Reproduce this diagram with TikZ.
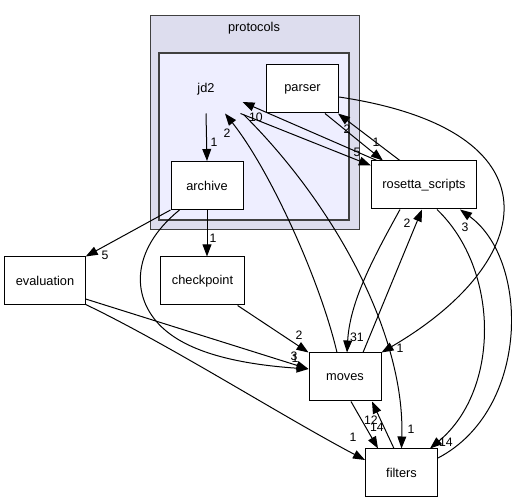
\documentclass[tikz,border=0pt]{standalone}
\usepackage{fontspec}
\setmainfont{Liberation Sans}
\usetikzlibrary{arrows.meta,calc}
\definecolor{outerbg}{HTML}{DDDDEE}
\definecolor{innerbg}{HTML}{EEEEFF}
\definecolor{clusline}{HTML}{404040}
\begin{document}
\begin{tikzpicture}[x=0.75pt, y=-0.75pt, line width=0.75pt,
  dirbox/.style={draw, fill=white, minimum width=54pt, minimum height=36pt, inner xsep=8.25pt, font=\fontsize{9.6}{11}\selectfont},
  dep/.style={-{Triangle[length=9pt,width=6.6pt]}},
  lbl/.style={inner sep=0pt, font=\fontsize{9.2}{10}\selectfont}]
  \useasboundingbox (0,0) rectangle (512,503);
  % clusters
  \draw[clusline, fill=outerbg] (150,16) rectangle (359,230);
  \node[font=\fontsize{9.6}{11}\selectfont] (protocols) at (254,28) {protocols};
  \draw[clusline, line width=1.5pt, fill=innerbg] (159,53) rectangle (349,220);
  \node[minimum width=54pt, minimum height=36pt, font=\fontsize{9.6}{11}\selectfont] (jd2) at (206,89) {jd2};
  % directories
  \node[dirbox] (parser) at (302.5,89) {parser};
  \node[dirbox] (archive) at (207,185.5) {archive};
  \node[dirbox] (rosetta) at (424,185) {rosetta\_scripts};
  \node[dirbox] (evaluation) at (45,281) {evaluation};
  \node[dirbox] (checkpoint) at (202.5,281) {checkpoint};
  \node[dirbox] (moves) at (345,377) {moves};
  \node[dirbox] (filters) at (401.5,473) {filters};
  % dependencies
  \draw[dep] (jd2.south) -- (archive.north) node[lbl] (c1) at (214,142) {1};
  \draw[dep] (archive.south) -- (archive.south |- checkpoint.north) node[lbl] (c2) at (213,238) {1};
  \draw[dep] (archive.south west) -- (evaluation.north east) node[lbl] (c3) at (105,255) {5};
  \draw[dep] ($(archive.south west)+(9,0)$) .. controls (130,250) and (130,300) .. (165,330)
    .. controls (195,356) and (250,365) .. ($(moves.west)+(0,-8)$) node[lbl] (c4) at (294,356) {3};
  \draw[dep] ($(evaluation.east)+(0,18)$) -- ($(moves.west)+(0,-8)$) node[lbl] (c5) at (295,358) {1};
  \draw[dep] ($(evaluation.south east)+(0,-1)$) .. controls (170,345) and (280,415) .. ($(filters.west)+(0,-13)$)
    node[lbl] (c6) at (353,437) {1};
  \draw[dep] ($(checkpoint.south east)+(-7,0)$) -- (moves.north west) node[lbl] (c7) at (299,335) {2};
  \draw[dep] ($(moves.north)+(-8,0)$) .. controls (320,280) and (270,170) .. ($(jd2.south)+(19,0)$)
    node[lbl] (c8) at (227,133) {2};
  \draw[dep] ($(jd2.south east)+(1,1)$) .. controls (330,200) and (405,330) .. (filters.north)
    node[lbl] (c9) at (411,429) {1};
  \draw[dep] ($(jd2.south east)+(-2,0)$) -- ($(rosetta.north west)+(0,5)$) node[lbl] (c10) at (357,152) {5};
  \draw[dep] ($(rosetta.north west)+(6,0)$) -- ($(jd2.east)+(0,13)$) node[lbl] (c11) at (256,117) {10};
  \draw[dep] ($(rosetta.north west)+(29,0)$) -- ($(parser.south east)+(-1,0)$) node[lbl] (c12) at (347,129) {2};
  \draw[dep] ($(parser.south east)+(-14,0)$) -- ($(rosetta.north west)+(12,0)$) node[lbl] (c13) at (376,142) {1};
  \draw[dep] ($(parser.east)+(0,8)$) .. controls (560,130) and (540,260) .. (moves.north east)
    node[lbl] (c14) at (400,348) {1};
  \draw[dep] ($(rosetta.south)+(-24,0)$) .. controls (375,255) and (350,300) .. ($(moves.north)+(2,0)$)
    node[lbl] (c15) at (357,337) {31};
  \draw[dep] ($(moves.north)+(18,0)$) -- ($(rosetta.south)+(-2,0)$) node[lbl] (c16) at (407,223) {2};
  \draw[dep] ($(rosetta.south)+(13,0)$) .. controls (500,270) and (500,390) .. ($(filters.north east)+(-8,0)$)
    node[lbl] (c17) at (446,442) {14};
  \draw[dep] ($(filters.east)+(0,-15)$) .. controls (530,410) and (530,260) .. ($(rosetta.south)+(36,0)$)
    node[lbl] (c18) at (465,227) {3};
  \draw[dep] ($(moves.south)+(6,0)$) -- ($(filters.north west)+(13,0)$) node[lbl] (c19) at (377,427) {14};
  \draw[dep] ($(filters.north west)+(29,0)$) -- ($(moves.south)+(27,0)$) node[lbl] (c20) at (371,420) {12};
\end{tikzpicture}
\end{document}
